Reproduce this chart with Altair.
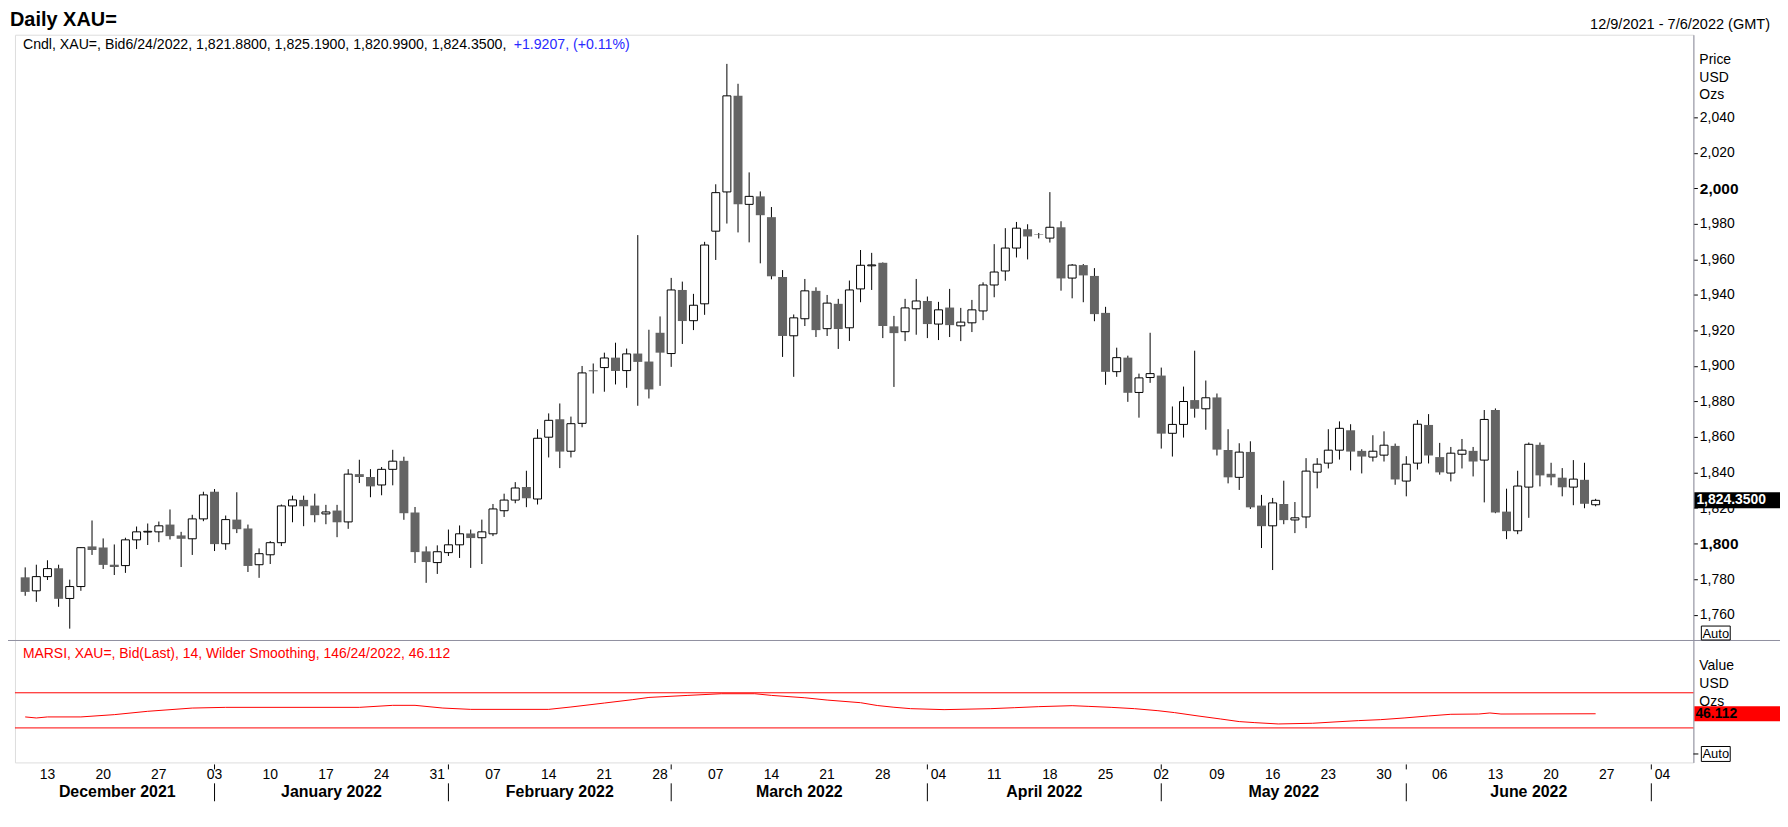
import json
import altair as alt
import pandas as pd

FONT = "Liberation Sans"
BORDER = "#8f8f9f"

# ---------------- data ----------------
opens = [1781.0, 1773.4, 1781.4, 1786.1, 1769.1, 1775.8, 1798.4, 1797.8, 1788.1, 1787.6,
         1802.1, 1806.5, 1806.6, 1810.7, 1804.6, 1802.7, 1813.9, 1829.2, 1799.9, 1813.5,
         1808.5, 1788.1, 1793.7, 1800.5, 1821.2, 1824.6, 1821.4, 1816.7, 1818.6, 1812.2,
         1839.1, 1837.5, 1833.0, 1841.8, 1846.6, 1817.5, 1795.6, 1789.3, 1794.9, 1799.3,
         1805.7, 1803.3, 1805.5, 1818.5, 1824.5, 1831.8, 1825.1, 1859.9, 1870.0, 1852.0,
         1867.7, 1897.6, 1899.1, 1904.7, 1897.4, 1907.0, 1902.5, 1918.7, 1907.0, 1942.8,
         1925.5, 1935.0, 1975.9, 1998.0, 2052.1, 1991.0, 1995.5, 1983.8, 1950.1, 1917.0,
         1926.6, 1942.3, 1921.0, 1935.0, 1921.5, 1943.4, 1956.4, 1958.1, 1922.3, 1919.3,
         1932.2, 1936.6, 1923.6, 1932.9, 1922.6, 1924.3, 1931.0, 1945.6, 1953.5, 1966.4,
         1977.0, 1974.2, 1972.0, 1978.1, 1949.5, 1956.8, 1950.7, 1929.9, 1896.8, 1904.7,
         1885.1, 1893.5, 1894.6, 1862.1, 1867.1, 1880.8, 1875.9, 1882.3, 1852.7, 1837.3,
         1851.6, 1821.4, 1810.0, 1822.3, 1813.3, 1815.0, 1840.2, 1845.3, 1852.6, 1863.8,
         1852.2, 1848.7, 1849.8, 1855.0, 1835.2, 1845.3, 1866.8, 1848.7, 1839.7, 1850.3,
         1852.2, 1847.0, 1875.2, 1818.0, 1807.2, 1831.8, 1855.6, 1839.3, 1837.1, 1831.8,
         1835.9, 1821.88]
highs = [1786.6, 1788.1, 1790.6, 1788.1, 1779.7, 1798.0, 1813.0, 1802.9, 1799.5, 1803.3,
         1809.6, 1811.3, 1812.4, 1819.2, 1806.6, 1816.2, 1829.2, 1830.7, 1815.8, 1828.9,
         1810.7, 1797.3, 1801.4, 1822.0, 1827.0, 1827.0, 1828.1, 1821.8, 1821.8, 1841.9,
         1847.2, 1841.9, 1843.1, 1852.8, 1848.9, 1820.6, 1798.4, 1799.0, 1807.9, 1810.2,
         1807.9, 1813.5, 1822.3, 1828.1, 1834.6, 1841.0, 1864.4, 1873.3, 1878.9, 1871.5,
         1900.0, 1901.4, 1907.5, 1913.1, 1909.8, 1973.7, 1920.4, 1927.9, 1949.6, 1947.5,
         1940.6, 1969.9, 2002.3, 2070.1, 2058.9, 2009.0, 1998.3, 1989.5, 1954.0, 1929.0,
         1949.0, 1944.3, 1940.0, 1937.8, 1948.1, 1965.3, 1963.7, 1958.3, 1928.2, 1937.8,
         1949.0, 1939.1, 1936.1, 1943.4, 1932.7, 1937.2, 1947.1, 1968.6, 1977.6, 1981.1,
         1979.8, 1974.9, 1997.9, 1981.5, 1957.4, 1957.4, 1955.1, 1933.3, 1910.3, 1905.8,
         1895.7, 1918.7, 1899.1, 1877.2, 1888.4, 1908.6, 1891.8, 1884.5, 1864.4, 1856.5,
         1857.6, 1827.4, 1825.7, 1835.4, 1823.4, 1848.1, 1848.1, 1864.4, 1868.8, 1867.2,
         1853.1, 1861.0, 1863.2, 1856.3, 1849.2, 1869.6, 1872.9, 1856.7, 1854.4, 1858.9,
         1854.4, 1875.2, 1876.1, 1830.9, 1841.0, 1856.9, 1856.9, 1845.5, 1842.5, 1847.0,
         1845.5, 1825.19]
lows = [1770.6, 1767.2, 1779.5, 1764.4, 1752.1, 1773.4, 1793.6, 1785.7, 1782.3, 1783.5,
        1796.9, 1799.2, 1800.8, 1802.3, 1786.8, 1793.6, 1812.6, 1795.8, 1796.5, 1805.9,
        1784.0, 1780.7, 1788.5, 1798.6, 1812.0, 1809.8, 1812.0, 1810.9, 1803.6, 1808.3,
        1834.1, 1826.1, 1827.2, 1832.8, 1813.4, 1789.1, 1777.9, 1782.9, 1793.0, 1791.9,
        1786.3, 1788.5, 1804.2, 1815.0, 1822.7, 1820.5, 1822.0, 1848.5, 1842.5, 1848.5,
        1865.5, 1884.5, 1885.5, 1889.6, 1887.7, 1877.6, 1881.7, 1888.8, 1899.5, 1912.4,
        1920.2, 1928.8, 1959.7, 1980.2, 1975.2, 1969.6, 1957.8, 1948.8, 1905.1, 1893.9,
        1922.5, 1916.3, 1916.9, 1909.6, 1914.1, 1935.9, 1942.8, 1915.7, 1888.2, 1914.0,
        1917.6, 1915.7, 1914.6, 1916.3, 1914.0, 1919.1, 1925.8, 1938.7, 1948.0, 1961.1,
        1960.0, 1971.8, 1969.5, 1942.4, 1938.1, 1935.9, 1925.2, 1889.4, 1893.9, 1879.8,
        1870.9, 1890.5, 1853.5, 1849.0, 1859.7, 1870.9, 1864.1, 1849.6, 1833.9, 1830.2,
        1819.5, 1797.5, 1785.1, 1810.9, 1805.9, 1808.7, 1831.1, 1842.3, 1847.3, 1841.2,
        1839.5, 1846.2, 1846.2, 1833.1, 1826.6, 1841.7, 1845.1, 1838.8, 1835.0, 1842.3,
        1837.8, 1823.2, 1817.1, 1802.5, 1805.3, 1814.5, 1832.2, 1832.8, 1826.6, 1821.6,
        1819.9, 1820.99]
closes = [1772.8, 1781.4, 1785.9, 1768.9, 1775.8, 1797.7, 1796.4, 1788.0, 1786.8, 1802.1,
          1806.6, 1806.9, 1810.0, 1804.2, 1802.7, 1813.9, 1827.4, 1799.7, 1813.5, 1808.1,
          1787.4, 1794.3, 1800.5, 1821.2, 1824.6, 1821.0, 1816.0, 1817.8, 1812.0, 1839.1,
          1837.5, 1832.2, 1841.8, 1846.4, 1817.1, 1795.2, 1789.6, 1795.4, 1799.3, 1805.5,
          1803.1, 1806.6, 1819.5, 1824.5, 1831.3, 1825.5, 1859.3, 1869.4, 1851.8, 1867.5,
          1896.1, 1897.0, 1904.5, 1897.2, 1906.8, 1902.3, 1886.8, 1907.5, 1942.8, 1925.3,
          1934.2, 1968.1, 1997.6, 2052.1, 1991.0, 1995.5, 1984.9, 1950.5, 1916.9, 1927.1,
          1942.3, 1920.2, 1935.4, 1920.8, 1942.8, 1956.7, 1956.9, 1922.5, 1918.5, 1932.7,
          1936.6, 1923.6, 1931.6, 1923.0, 1924.7, 1931.6, 1945.6, 1952.9, 1966.4, 1977.6,
          1972.9, 1973.9, 1978.1, 1949.3, 1956.8, 1951.0, 1929.2, 1896.7, 1904.7, 1884.9,
          1893.3, 1895.7, 1861.9, 1867.1, 1880.0, 1875.9, 1882.1, 1852.9, 1837.3, 1851.5,
          1820.4, 1809.8, 1822.9, 1813.2, 1814.5, 1840.8, 1844.7, 1852.6, 1864.9, 1851.8,
          1849.0, 1852.0, 1855.4, 1836.1, 1844.7, 1867.2, 1849.6, 1840.1, 1850.9, 1852.6,
          1846.2, 1869.9, 1817.5, 1807.0, 1832.4, 1855.9, 1838.4, 1837.3, 1831.7, 1836.3,
          1822.4, 1824.35]
prev_close = 1822.4293

# RSI readings: trading-day position and value
rsi_x = [0, 1, 2, 5, 8, 11, 15, 18, 30, 33, 35, 37.5, 40, 47, 49, 52, 54.5, 56, 59.5, 62.5,
         65.5, 67, 70, 72, 75, 76.5, 78, 79.5, 82.5, 86.7, 88.8, 91, 94, 95.5, 97.5, 99.6,
         101.7, 103.2, 105.3, 107.3, 109, 110.4, 112.5, 115.6, 117.6, 119.7, 121.7, 123.8,
         126, 128, 130.5, 131.5, 132.5, 141]
rsi_v = [42.5, 41.3, 42.5, 42.5, 45.1, 48.9, 52.6, 53.4, 53.4, 55.7, 55.7, 52.6, 51.1, 51.1,
         53.8, 58.3, 62.1, 64.7, 67.0, 68.9, 68.9, 67.0, 64.3, 61.7, 58.7, 55.5, 53.5, 51.9,
         50.8, 51.9, 53.0, 54.2, 55.3, 54.5, 53.4, 51.9, 49.6, 47.4, 43.6, 40.2, 37.2, 36.0,
         34.5, 35.3, 36.8, 38.3, 39.4, 41.3, 43.6, 45.5, 45.8, 47.0, 45.8, 46.112]
rsi_levels = [70, 30]

price_ticks = list(range(1760, 2041, 20))
bold_ticks = [1800, 2000]

day_tick_idx = [2, 7, 12, 17, 22, 27, 32, 37, 42, 47, 52, 57, 62, 67, 72, 77, 82, 87, 92,
                97, 102, 107, 112, 117, 122, 127, 132, 137, 142, 147]
day_tick_labels = ["13", "20", "27", "03", "10", "17", "24", "31", "07", "14", "21", "28",
                   "07", "14", "21", "28", "04", "11", "18", "25", "02", "09", "16", "23",
                   "30", "06", "13", "20", "27", "04"]

month_names = ["December 2021", "January 2022", "February 2022", "March 2022",
               "April 2022", "May 2022", "June 2022"]
month_starts = [17, 38, 58, 81, 102, 124, 146]   # first trading day of Jan..Jul

# ---------------- layout ----------------
W, H = 1686, 731
X_DOMAIN = [-0.471, 149.33]
P_DOMAIN = [1676.77, 2086.52]
R_DOMAIN = [-9.3, 819.0]

n = len(closes)
df = pd.DataFrame({"idx": list(range(n)), "open": opens, "high": highs,
                   "low": lows, "close": closes})
rsi_df = pd.DataFrame({"idx": rsi_x, "rsi": rsi_v})
lvl_df = pd.DataFrame({"level": rsi_levels})
day_df = pd.DataFrame({"idx": day_tick_idx, "lab": day_tick_labels})
bounds = [X_DOMAIN[0]] + month_starts
mon_df = pd.DataFrame({"name": month_names,
                       "center": [(bounds[i] + bounds[i + 1]) / 2 for i in range(len(month_names))]})
sep_df = pd.DataFrame({"start": month_starts})
last_df = pd.DataFrame({"close": [closes[-1]], "rsi": [rsi_v[-1]],
                        "ctext": [f"{closes[-1]:,.4f}"], "rtext": [f"{rsi_v[-1]:.3f}"]})
ONE = pd.DataFrame({"a": [0]})

xscale = alt.Scale(domain=X_DOMAIN, nice=False, zero=False)
pscale = alt.Scale(domain=P_DOMAIN, nice=False, zero=False)
rscale = alt.Scale(domain=R_DOMAIN, nice=False, zero=False)

bold_expr = "indexof({}, datum.value) >= 0".format(json.dumps(bold_ticks))
paxis = alt.Axis(orient="right", values=price_ticks, format=",d", grid=False, title=None,
                 tickSize=4, tickColor="black", domainColor=BORDER, labelPadding=2,
                 labelFont=FONT, labelColor="black", labelBaseline="middle",
                 labelFontSize=alt.expr(bold_expr + " ? 15.5 : 14"),
                 labelFontWeight=alt.expr(bold_expr + " ? 'bold' : 'normal'"))

X = alt.X("idx:Q", scale=xscale, axis=None)

wicks = alt.Chart(df).mark_rule(color="black", strokeWidth=1).encode(
    x=X, y=alt.Y("low:Q", scale=pscale, axis=paxis), y2="high:Q")
down = alt.Chart(df).transform_filter("datum.close < datum.open").mark_bar(
    size=9, color="#646464").encode(
    x=X, y=alt.Y("open:Q", scale=pscale, axis=None), y2="close:Q")
up = alt.Chart(df).transform_filter("datum.close >= datum.open").mark_bar(
    size=8, fill="white", stroke="black", strokeWidth=1).encode(
    x=X, y=alt.Y("open:Q", scale=pscale, axis=None), y2="close:Q")

levels = alt.Chart(lvl_df).mark_rule(color="#ff0000", strokeWidth=1).encode(
    y=alt.Y("level:Q", scale=rscale, axis=None))
rsi_line = alt.Chart(rsi_df).mark_line(color="#ff0000", strokeWidth=1).encode(
    x=X, y=alt.Y("rsi:Q", scale=rscale, axis=None))

last_box = alt.Chart(last_df).mark_tick(color="black", orient="horizontal", size=86,
                                        thickness=16, opacity=1).encode(
    x=alt.value(1730), y=alt.Y("close:Q", scale=pscale, axis=None))
last_txt = alt.Chart(last_df).mark_text(color="white", fontWeight="bold", fontSize=14, font=FONT,
                                        align="left", baseline="middle").encode(
    x=alt.value(1689), y=alt.Y("close:Q", scale=pscale, axis=None), text="ctext:N")
rsi_box = alt.Chart(last_df).mark_tick(color="#ff0000", orient="horizontal", size=86,
                                       thickness=15, opacity=1).encode(
    x=alt.value(1730), y=alt.Y("rsi:Q", scale=rscale, axis=None))
rsi_txt = alt.Chart(last_df).mark_text(color="black", fontWeight="bold", fontSize=14, font=FONT,
                                       align="left", baseline="middle").encode(
    x=alt.value(1688), y=alt.Y("rsi:Q", scale=rscale, axis=None), text="rtext:N")

days = alt.Chart(day_df).mark_text(fontSize=14, font=FONT, color="black",
                                   baseline="alphabetic").encode(
    x=alt.X("idx:Q", scale=xscale, axis=None), y=alt.value(748), text="lab:N")
months = alt.Chart(mon_df).mark_text(fontSize=16, fontWeight="bold", font=FONT, color="black",
                                     baseline="alphabetic").encode(
    x=alt.X("center:Q", scale=xscale, axis=None), y=alt.value(766), text="name:N")
sep_long = alt.Chart(sep_df).mark_rule(color="black").encode(
    x=alt.X("start:Q", scale=xscale, axis=None), y=alt.value(752), y2=alt.value(770))
sep_short = alt.Chart(sep_df).mark_rule(color="black").encode(
    x=alt.X("start:Q", scale=xscale, axis=None), y=alt.value(733), y2=alt.value(738))


def label(txt, x, y, size=13, weight="normal", color="black", align="left", baseline="alphabetic"):
    return alt.Chart(ONE).mark_text(text=txt, fontSize=size, fontWeight=weight, color=color,
                                    align=align, baseline=baseline, font=FONT).encode(
        x=alt.value(x), y=alt.value(y))


def box(x1, x2, y1, y2):
    return alt.Chart(ONE).mark_rect(fill="white", stroke="black", strokeWidth=1).encode(
        x=alt.value(x1), x2=alt.value(x2), y=alt.value(y1), y2=alt.value(y2))


sep_panel = alt.Chart(ONE).mark_rule(color=BORDER, strokeWidth=1).encode(
    x=alt.value(-10), x2=alt.value(1775), y=alt.value(608.5))

head_black = "Cndl, XAU=, Bid6/24/2022, {:,.4f}, {:,.4f}, {:,.4f}, {:,.4f},".format(
    opens[-1], highs[-1], lows[-1], closes[-1])
chg = closes[-1] - prev_close
head_blue = "+{:.4f}, (+{:.2f}%)".format(chg, chg / prev_close * 100)

decor = [
    label("Daily XAU=", -5, -9, size=20, weight="bold"),
    label("12/9/2021 - 7/6/2022 (GMT)", 1763, -6, size=14.6, align="right"),
    label(head_black, 8, 14.5, size=14.2),
    label(head_blue, 501, 14.5, size=14.2, color="#2a2aff"),
    label("MARSI, XAU=, Bid(Last),  14, Wilder Smoothing, 146/24/2022, 46.112", 8, 626,
          size=14, color="#ff0000"),
    label("Price", 1692, 25, size=14, baseline="middle"),
    label("USD", 1692, 43, size=14, baseline="middle"),
    label("Ozs", 1692, 61, size=14, baseline="middle"),
    label("Value", 1692, 634, size=14, baseline="middle"),
    label("USD", 1692, 652, size=14, baseline="middle"),
    label("Ozs", 1692, 670, size=14, baseline="middle"),
    box(1694, 1723, 594, 608),
    label("Auto", 1708.5, 601.5, size=13, align="center", baseline="middle"),
    box(1694, 1723, 715, 730),
    label("Auto", 1708.5, 723, size=13, align="center", baseline="middle"),
    alt.Chart(ONE).mark_rule(color="black").encode(x=alt.value(1686), x2=alt.value(1691),
                                                  y=alt.value(722.5)),
]

chart = alt.layer(
    wicks, down, up, levels, rsi_line, sep_panel, last_box, last_txt, rsi_box, rsi_txt,
    days, months, sep_long, sep_short, *decor
).resolve_scale(y="independent").properties(
    width=W, height=H,
    autosize=alt.AutoSizeParams(type="none"),
    padding={"left": 7, "top": 25, "right": 87, "bottom": 60},
).configure_view(stroke=BORDER, strokeWidth=1).configure(background="white")

chart.save("out.html", embed_options={"renderer": "svg", "actions": False})
